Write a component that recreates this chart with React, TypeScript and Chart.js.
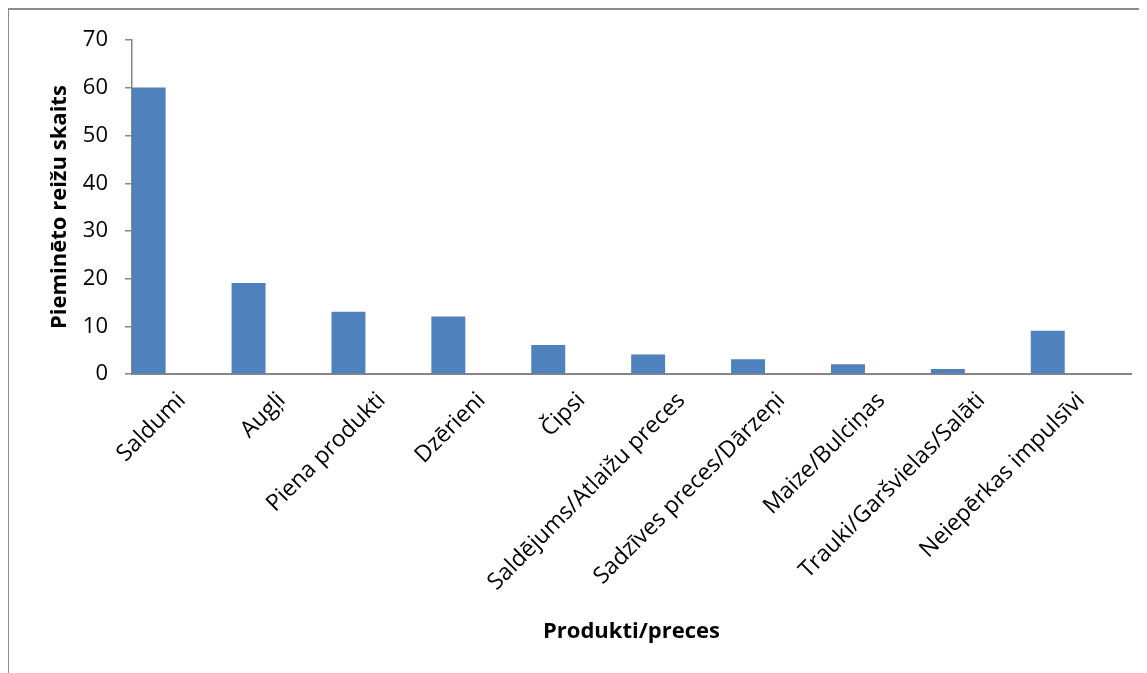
import React, { useEffect, useRef } from "react";
import { Chart, registerables } from "chart.js";

Chart.register(...registerables);

const categories = [
  "Saldumi",
  "Augļi",
  "Piena produkti",
  "Dzērieni",
  "Čipsi",
  "Saldējums/Atlaižu preces",
  "Sadzīves preces/Dārzeņi",
  "Maize/Bulciņas",
  "Trauki/Garšvielas/Salāti",
  "Neiepērkas impulsīvi",
];

const mentions = [60, 19, 13, 12, 6, 4, 3, 2, 1, 9];
const emptySeriesA: (number | null)[] = categories.map(() => null);
const emptySeriesB: (number | null)[] = categories.map(() => null);

const yTicks = [0, 10, 20, 30, 40, 50, 60, 70];
const yTitle = "Pieminēto reižu skaits";
const xTitle = "Produkti/preces";

const FONT = "'Open Sans', 'DejaVu Sans', sans-serif";
const AXIS_GRAY = "#868686";
const BAR_BLUE = "#4F81BD";

export default function App() {
  const canvasRef = useRef<HTMLCanvasElement | null>(null);

  useEffect(() => {
    const canvas = canvasRef.current;
    if (!canvas) return;
    const chart = new Chart(canvas, {
      type: "bar",
      data: {
        labels: categories,
        datasets: [
          {
            label: "Pieminēto reižu skaits",
            data: mentions,
            backgroundColor: BAR_BLUE,
            borderWidth: 0,
            categoryPercentage: 1,
            barPercentage: 1,
          },
          {
            label: "",
            data: emptySeriesA,
            backgroundColor: BAR_BLUE,
            categoryPercentage: 1,
            barPercentage: 1,
          },
          {
            label: "",
            data: emptySeriesB,
            backgroundColor: BAR_BLUE,
            categoryPercentage: 1,
            barPercentage: 1,
          },
        ],
      },
      options: {
        animation: false,
        responsive: false,
        maintainAspectRatio: false,
        layout: { padding: { left: 0, top: 29, right: 16, bottom: 0 } },
        plugins: {
          legend: { display: false },
          tooltip: { enabled: false },
          title: { display: false },
        },
        scales: {
          x: {
            type: "category",
            offset: true,
            afterFit: (scale: any) => {
              scale.height = 299;
            },
            grid: {
              display: false,
              drawTicks: false,
              drawOnChartArea: false,
            },
            border: { display: true, color: AXIS_GRAY, width: 2 },
            ticks: {
              autoSkip: false,
              maxRotation: 45,
              minRotation: 45,
              padding: 13,
              color: "#000",
              font: { family: FONT, size: 23 },
            },
            title: {
              display: true,
              text: xTitle,
              color: "#000",
              font: { family: FONT, size: 22, weight: "bold" },
              padding: { top: 0, bottom: 28 },
            },
          },
          y: {
            type: "linear",
            min: 0,
            max: 70,
            afterFit: (scale: any) => {
              scale.width = 123;
            },
            afterBuildTicks: (scale: any) => {
              scale.ticks = yTicks.map((v) => ({ value: v }));
            },
            grid: {
              display: true,
              drawOnChartArea: false,
              drawTicks: true,
              tickLength: 7,
              color: AXIS_GRAY,
              lineWidth: 1.5,
            },
            border: { display: true, color: AXIS_GRAY, width: 1.5 },
            ticks: {
              padding: 17,
              color: "#000",
              font: { family: FONT, size: 22 },
            },
            title: {
              display: true,
              text: yTitle,
              color: "#000",
              font: { family: FONT, size: 22, weight: "bold" },
              padding: { top: 38, bottom: 0 },
            },
          },
        },
      },
    });
    return () => chart.destroy();
  }, []);

  return (
    <div
      style={{
        position: "relative",
        width: 1139,
        height: 665,
        boxSizing: "border-box",
        borderLeft: "1px solid #8c8c8c",
        borderTop: "2px solid #8c8c8c",
        overflow: "hidden",
      }}
    >
      <canvas
        ref={canvasRef}
        width={1138}
        height={663}
        style={{ position: "absolute", left: 0, top: 0, width: 1138, height: 663 }}
      />
    </div>
  );
}
